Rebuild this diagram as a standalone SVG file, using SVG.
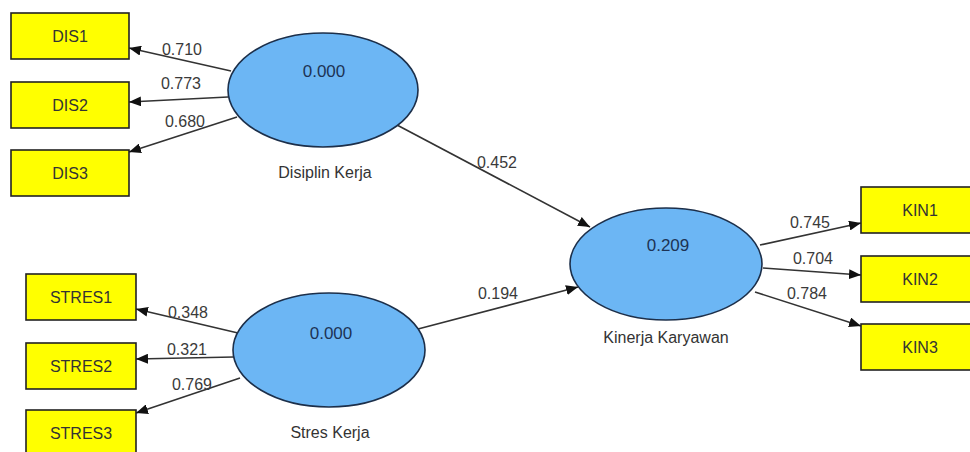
<svg xmlns="http://www.w3.org/2000/svg" width="970" height="452" viewBox="0 0 970 452">
<style>
.box{fill:#ffff00;stroke:#222;stroke-width:1.6}
.lv{fill:#6cb6f4;stroke:#1c2f4a;stroke-width:1.6}
.bt{font-family:"Liberation Sans",Arial,sans-serif;font-size:16px;fill:#333;text-anchor:middle}
.vt{font-family:"Liberation Sans",Arial,sans-serif;font-size:17px;fill:#1d3355;text-anchor:middle}
.nt{font-family:"Liberation Sans",Arial,sans-serif;font-size:16px;fill:#333;text-anchor:middle}
.lb{font-family:"Liberation Sans",Arial,sans-serif;font-size:16px;fill:#3a3a3a;text-anchor:middle}
.cn{stroke:#333;stroke-width:1.6;fill:none;marker-end:url(#ah)}
</style>
<defs>
<marker id="ah" viewBox="0 0 12 10" refX="12" refY="5" markerWidth="12" markerHeight="10" markerUnits="userSpaceOnUse" orient="auto">
<path d="M0,0 L12,5 L0,10 Z" fill="#111"/>
</marker>
</defs>
<rect width="970" height="452" fill="#ffffff"/>
<g id="connectors">
<line class="cn" x1="231" y1="71" x2="129" y2="48"/>
<line class="cn" x1="228" y1="97" x2="129" y2="102"/>
<line class="cn" x1="237" y1="117" x2="129" y2="152"/>
<line class="cn" x1="238" y1="333" x2="136" y2="309"/>
<line class="cn" x1="234" y1="357" x2="136" y2="359"/>
<line class="cn" x1="240" y1="378" x2="136" y2="413"/>
<line class="cn" x1="397" y1="125" x2="590" y2="227"/>
<line class="cn" x1="418" y1="329" x2="578" y2="287"/>
<line class="cn" x1="760" y1="245" x2="861" y2="223"/>
<line class="cn" x1="763" y1="268" x2="861" y2="275"/>
<line class="cn" x1="755" y1="292" x2="861" y2="326"/>
<text class="lb" x="182" y="55">0.710</text>
<text class="lb" x="181" y="89">0.773</text>
<text class="lb" x="185" y="127">0.680</text>
<text class="lb" x="188" y="318">0.348</text>
<text class="lb" x="187" y="355">0.321</text>
<text class="lb" x="192" y="390">0.769</text>
<text class="lb" x="497" y="168">0.452</text>
<text class="lb" x="498" y="299">0.194</text>
<text class="lb" x="810" y="228">0.745</text>
<text class="lb" x="813" y="264">0.704</text>
<text class="lb" x="807" y="299">0.784</text>
</g>
<g id="DIS1"><rect class="box" x="11" y="13" width="118" height="46"/><text class="bt" x="70" y="42">DIS1</text></g>
<g id="DIS2"><rect class="box" x="11" y="82" width="118" height="46"/><text class="bt" x="70" y="111">DIS2</text></g>
<g id="DIS3"><rect class="box" x="11" y="150" width="118" height="46"/><text class="bt" x="70" y="179">DIS3</text></g>
<g id="STRES1"><rect class="box" x="26" y="274" width="110" height="46"/><text class="bt" x="81" y="303">STRES1</text></g>
<g id="STRES2"><rect class="box" x="26" y="343" width="110" height="46"/><text class="bt" x="81" y="372">STRES2</text></g>
<g id="STRES3"><rect class="box" x="26" y="410" width="110" height="46"/><text class="bt" x="81" y="439">STRES3</text></g>
<g id="KIN1"><rect class="box" x="861" y="187" width="118" height="46"/><text class="bt" x="920" y="216">KIN1</text></g>
<g id="KIN2"><rect class="box" x="861" y="256" width="118" height="46"/><text class="bt" x="920" y="285">KIN2</text></g>
<g id="KIN3"><rect class="box" x="861" y="324" width="118" height="46"/><text class="bt" x="920" y="353">KIN3</text></g>
<g id="DisiplinKerja"><ellipse class="lv" cx="323" cy="90" rx="95" ry="57"/><text class="vt" x="324" y="77">0.000</text><text class="nt" x="325" y="178">Disiplin Kerja</text></g>
<g id="StresKerja"><ellipse class="lv" cx="329" cy="350" rx="96" ry="57"/><text class="vt" x="331" y="339">0.000</text><text class="nt" x="330" y="438">Stres Kerja</text></g>
<g id="KinerjaKaryawan"><ellipse class="lv" cx="666" cy="264" rx="96" ry="56"/><text class="vt" x="668" y="251">0.209</text><text class="nt" x="666" y="343">Kinerja Karyawan</text></g>
</svg>
